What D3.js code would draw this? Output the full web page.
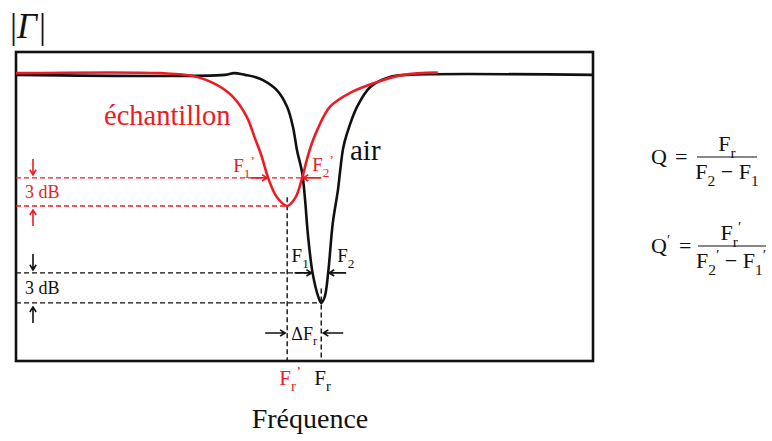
<!DOCTYPE html>
<html>
<head>
<meta charset="utf-8">
<script src="https://cdn.jsdelivr.net/npm/d3@7"></script>
<style>
  body { margin: 0; background: #fff; }
  svg { display: block; }
</style>
</head>
<body>
<svg id="chart" width="772" height="441" font-family="'Liberation Serif', 'DejaVu Serif', serif"></svg>
<script>
// Reflection coefficient |Γ| versus frequency, empty cavity (air) and loaded cavity (échantillon)
const airFreq   = [0, 36.2, 37.8, 39.7, 41.4, 42.8, 45.2, 47.0, 48.0, 48.7, 49.6, 50.1, 50.6, 51.4, 52.4, 52.9, 53.5, 54.1, 54.9, 55.8, 56.2, 56.7, 57.4, 59.1, 61.4, 64.8, 67.8, 100];
const airGamma  = [1.0, 1.0, 1.006, 1.0, 0.993, 0.982, 0.947, 0.888, 0.818, 0.737, 0.657, 0.563, 0.44, 0.308, 0.224, 0.203, 0.224, 0.308, 0.482, 0.598, 0.668, 0.744, 0.797, 0.888, 0.958, 0.993, 1.0, 1.0];

const sampleFreq  = [0, 25.0, 30.7, 34.8, 37.6, 40.0, 41.4, 42.5, 43.7, 45.2, 47.0, 48.4, 49.6, 50.4, 51.3, 52.2, 54.4, 57.9, 62.6, 67.1, 73.1];
const sampleGamma = [1.006, 1.006, 0.996, 0.965, 0.923, 0.853, 0.779, 0.720, 0.640, 0.573, 0.542, 0.570, 0.640, 0.703, 0.762, 0.807, 0.888, 0.937, 0.975, 1.0, 1.008];

// Resonance markers: [F1, F2, Fr]
const sampleMarkers = [43.7, 49.6, 47.0];
const airMarkers    = [51.4, 54.1, 52.9];
// Half-power level and minimum level: [échantillon, air]
const halfPowerLevels = [0.640, 0.308];
const minimumLevels   = [0.542, 0.203];

const RED = "#ed1c24", INK = "#111";

const svg = d3.select("#chart");
const x = d3.scaleLinear().domain([0, 100]).range([16, 593]);
const y = d3.scaleLinear().domain([0, 1.08]).range([361, 52]);

// helpers ---------------------------------------------------------------
function richText(g, px, py, parts, opts) {
  const t = g.append("text")
    .attr("x", px).attr("y", py)
    .attr("font-size", opts.size)
    .attr("fill", opts.color || INK)
    .attr("text-anchor", opts.anchor || "start");
  let level = 0;
  parts.forEach(p => {
    const target = p.sub ? 0.3 : (p.sup ? -0.38 : 0);
    const span = t.append("tspan").text(p.t);
    const dy = (target - level) * opts.size;
    if (dy !== 0) span.attr("dy", dy);
    if (p.sub || p.sup) span.attr("font-size", opts.size * 0.7);
    level = target;
  });
  return t;
}

function arrow(g, x1, y1, x2, y2, color) {
  const ang = Math.atan2(y2 - y1, x2 - x1), h = 6, s = 0.55;
  const a1 = [x2 - h * Math.cos(ang - s), y2 - h * Math.sin(ang - s)];
  const a2 = [x2 - h * Math.cos(ang + s), y2 - h * Math.sin(ang + s)];
  g.append("path")
    .attr("d", `M${x1},${y1}L${x2},${y2}M${a1[0]},${a1[1]}L${x2},${y2}L${a2[0]},${a2[1]}`)
    .attr("fill", "none").attr("stroke", color).attr("stroke-width", 1.6);
}

function dashed(g, x1, y1, x2, y2, color) {
  g.append("line").attr("x1", x1).attr("y1", y1).attr("x2", x2).attr("y2", y2)
    .attr("stroke", color).attr("stroke-width", 1.4).attr("stroke-dasharray", "5,3");
}

// axis label |Γ| -------------------------------------------------------
const gLabel = svg.append("g");
const gt = gLabel.append("text").attr("x", 10).attr("y", 38).attr("font-size", 35).attr("fill", INK);
gt.append("tspan").text("|");
gt.append("tspan").attr("font-style", "italic").text("Γ");
gt.append("tspan").attr("dx", 2).text("|");

// frame ------------------------------------------------------------------
svg.append("rect")
  .attr("x", x(0)).attr("y", y(1.08))
  .attr("width", x(100) - x(0)).attr("height", y(0) - y(1.08))
  .attr("fill", "none").attr("stroke", INK).attr("stroke-width", 2.6);

// guides -----------------------------------------------------------------
const gGuide = svg.append("g");
dashed(gGuide, x(0), y(halfPowerLevels[0]), x(sampleMarkers[1]), y(halfPowerLevels[0]), RED);
dashed(gGuide, x(0), y(minimumLevels[0]), x(sampleMarkers[2]), y(minimumLevels[0]), RED);
dashed(gGuide, x(0), y(halfPowerLevels[1]), x(airMarkers[0]), y(halfPowerLevels[1]), INK);
dashed(gGuide, x(0), y(minimumLevels[1]), x(airMarkers[2]), y(minimumLevels[1]), INK);
dashed(gGuide, x(sampleMarkers[2]), y(minimumLevels[0] + 0.03), x(sampleMarkers[2]), y(0), INK);
dashed(gGuide, x(airMarkers[2]), y(minimumLevels[1] + 0.05), x(airMarkers[2]), y(0), INK);

// curves -----------------------------------------------------------------
const line = d3.line().x(d => x(d[0])).y(d => y(d[1])).curve(d3.curveCatmullRom.alpha(0.5));
svg.append("path").datum(d3.zip(airFreq, airGamma))
  .attr("d", line).attr("fill", "none").attr("stroke", INK).attr("stroke-width", 2.6);
svg.append("path").datum(d3.zip(sampleFreq, sampleGamma))
  .attr("d", line).attr("fill", "none").attr("stroke", RED).attr("stroke-width", 2.6);

// annotations -----------------------------------------------------------
const gAnn = svg.append("g");
const ax = 33;
[[halfPowerLevels[0], minimumLevels[0], RED], [halfPowerLevels[1], minimumLevels[1], INK]].forEach(([hp, mn, c]) => {
  arrow(gAnn, ax, y(hp) - 19, ax, y(hp) - 3, c);
  arrow(gAnn, ax, y(mn) + 20, ax, y(mn) + 4, c);
  gAnn.append("text").attr("x", 25).attr("y", (y(hp) + y(mn)) / 2 + 6)
    .attr("font-size", 18).attr("fill", c).text("3 dB");
});

arrow(gAnn, x(sampleMarkers[0]) - 17, y(halfPowerLevels[0]), x(sampleMarkers[0]) - 1, y(halfPowerLevels[0]), RED);
arrow(gAnn, x(sampleMarkers[1]) + 19, y(halfPowerLevels[0]), x(sampleMarkers[1]) + 1, y(halfPowerLevels[0]), RED);
arrow(gAnn, x(airMarkers[0]) - 18, y(halfPowerLevels[1]), x(airMarkers[0]) - 1, y(halfPowerLevels[1]), INK);
arrow(gAnn, x(airMarkers[1]) + 18, y(halfPowerLevels[1]), x(airMarkers[1]) + 1, y(halfPowerLevels[1]), INK);

richText(gAnn, x(sampleMarkers[0]) - 35, y(halfPowerLevels[0]) - 6, [{t: "F"}, {t: "1", sub: true}, {t: "’", sup: true}], {size: 19, color: RED});
richText(gAnn, x(sampleMarkers[1]) + 10, y(halfPowerLevels[0]) - 7, [{t: "F"}, {t: "2", sub: true}, {t: "’", sup: true}], {size: 19, color: RED});
richText(gAnn, x(airMarkers[0]) - 21, y(halfPowerLevels[1]) - 11, [{t: "F"}, {t: "1", sub: true}], {size: 19});
richText(gAnn, x(airMarkers[1]) + 9, y(halfPowerLevels[1]) - 11, [{t: "F"}, {t: "2", sub: true}], {size: 19});

const dY = 333;
arrow(gAnn, x(sampleMarkers[2]) - 22, dY, x(sampleMarkers[2]) - 2, dY, INK);
arrow(gAnn, x(airMarkers[2]) + 22, dY, x(airMarkers[2]) + 2, dY, INK);
richText(gAnn, (x(sampleMarkers[2]) + x(airMarkers[2])) / 2, dY + 7, [{t: "ΔF"}, {t: "r", sub: true}], {size: 18, anchor: "middle"});

gAnn.append("text").attr("x", 104).attr("y", 125).attr("font-size", 28.5).attr("fill", RED).text("échantillon");
gAnn.append("text").attr("x", 350).attr("y", 160).attr("font-size", 29).attr("fill", INK).text("air");

richText(gAnn, x(sampleMarkers[2]) - 8, 385, [{t: "F"}, {t: "r", sub: true}, {t: "’", sup: true}], {size: 21, color: RED});
richText(gAnn, x(airMarkers[2]) - 7, 385, [{t: "F"}, {t: "r", sub: true}], {size: 21});
gAnn.append("text").attr("x", 310).attr("y", 428).attr("font-size", 28).attr("text-anchor", "middle")
  .attr("fill", INK).text("Fréquence");

// quality factor formulas ---------------------------------------------
const gQ = svg.append("g");
const FS = 22;
function fraction(cx, barY, x1, x2, num, den) {
  gQ.append("line").attr("x1", x1).attr("x2", x2).attr("y1", barY).attr("y2", barY)
    .attr("stroke", INK).attr("stroke-width", 1.2);
  richText(gQ, cx, barY - 6, num, {size: FS, anchor: "middle"});
  richText(gQ, cx, barY + 22, den, {size: FS, anchor: "middle"});
}
gQ.append("text").attr("x", 651).attr("y", 164).attr("font-size", FS).attr("fill", INK).text("Q");
gQ.append("text").attr("x", 675).attr("y", 164).attr("font-size", FS).attr("fill", INK).text("=");
fraction(727, 157, 697, 757, [{t: "F"}, {t: "r", sub: true}], [{t: "F"}, {t: "2", sub: true}, {t: " − F"}, {t: "1", sub: true}]);

const q2 = gQ.append("text").attr("x", 651).attr("y", 253).attr("font-size", FS).attr("fill", INK);
q2.append("tspan").text("Q");
q2.append("tspan").attr("dy", -8).attr("font-size", 14).text("′");
gQ.append("text").attr("x", 679).attr("y", 253).attr("font-size", FS).attr("fill", INK).text("=");
fraction(731, 246, 698, 766,
  [{t: "F"}, {t: "r", sub: true}, {t: "′", sup: true}],
  [{t: "F"}, {t: "2", sub: true}, {t: "′", sup: true}, {t: " − F"}, {t: "1", sub: true}, {t: "′", sup: true}]);
</script>
</body>
</html>
